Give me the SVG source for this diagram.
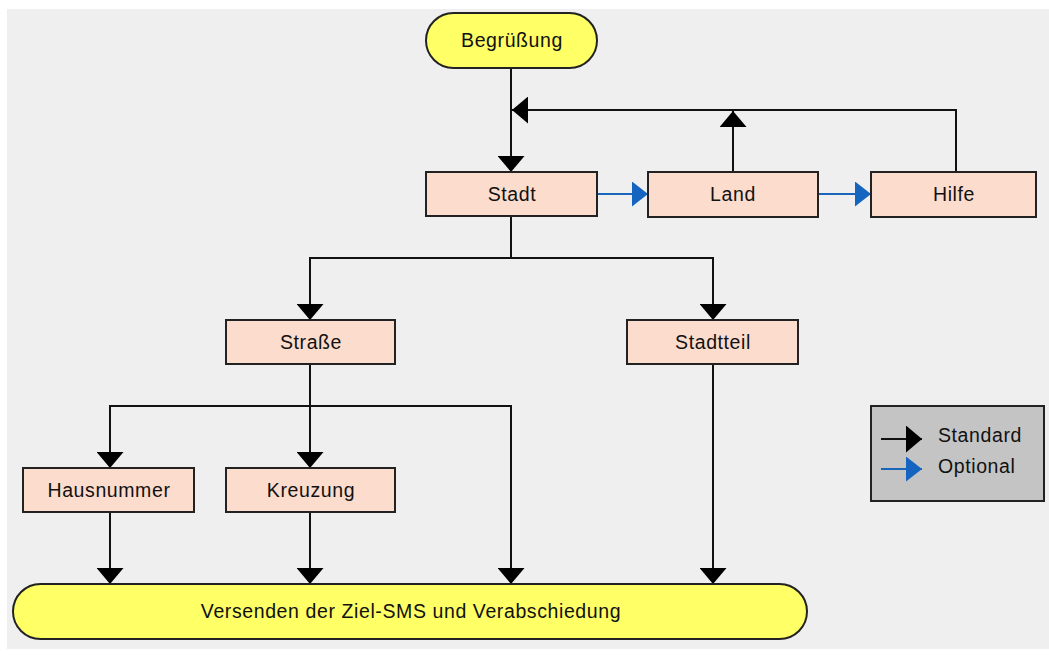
<svg xmlns="http://www.w3.org/2000/svg" width="1049" height="655" viewBox="0 0 1049 655">
<defs>
<style>
.bg{fill:#efefef}
.box{fill:#fcdccc;stroke:#222;stroke-width:2}
.term{fill:#ffff66;stroke:#222;stroke-width:2}
.legend{fill:#c4c4c4;stroke:#222;stroke-width:2}
.lbl{font-family:"Liberation Sans",Arial,sans-serif;font-size:19.5px;letter-spacing:0.6px;fill:#111;text-anchor:middle}
.lgt{font-family:"Liberation Sans",Arial,sans-serif;font-size:19.5px;letter-spacing:0.6px;fill:#111}
.std{fill:none;stroke:#111;stroke-width:2;marker-end:url(#ab)}
.opt{fill:none;stroke:#1a66bb;stroke-width:2;marker-end:url(#ao)}
</style>
<marker id="ab" markerUnits="userSpaceOnUse" markerWidth="16" markerHeight="27" refX="16" refY="13.5" orient="auto" viewBox="0 0 16 27">
<path d="M0,0 L16,13.5 L0,27 z" fill="#000"/>
</marker>
<marker id="ao" markerUnits="userSpaceOnUse" markerWidth="16" markerHeight="25" refX="16" refY="12.5" orient="auto" viewBox="0 0 16 25">
<path d="M0,0 L16,12.5 L0,25 z" fill="#1565c0"/>
</marker>
</defs>
<rect x="0" y="0" width="1049" height="655" fill="#ffffff"/>
<rect class="bg" x="7" y="9" width="1042" height="640"/>

<g id="connectors">
<path class="std" d="M511,68 V172"/>
<path class="std" d="M956,172 V110 H512"/>
<path class="std" d="M733,172 V111"/>
<path class="opt" d="M597,194 H648"/>
<path class="opt" d="M818,194 H871"/>
<path class="std" d="M511,216 V258 H310 V320"/>
<path class="std" d="M511,258 H713 V320"/>
<path class="std" d="M310,364 V406 H110 V468"/>
<path class="std" d="M310,406 V468"/>
<path class="std" d="M310,406 H511 V584"/>
<path class="std" d="M110,512 V584"/>
<path class="std" d="M310,512 V584"/>
<path class="std" d="M713,364 V584"/>
</g>

<g id="begruessung">
<rect class="term" x="426" y="13" width="171" height="55" rx="27.5"/>
<text class="lbl" x="512" y="47">Begrüßung</text>
</g>
<g id="stadt">
<rect class="box" x="426" y="172" width="171" height="44"/>
<text class="lbl" x="512" y="201">Stadt</text>
</g>
<g id="land">
<rect class="box" x="648" y="172" width="170" height="45"/>
<text class="lbl" x="733" y="201">Land</text>
</g>
<g id="hilfe">
<rect class="box" x="871" y="172" width="165" height="45"/>
<text class="lbl" x="954" y="201">Hilfe</text>
</g>
<g id="strasse">
<rect class="box" x="226" y="320" width="169" height="44"/>
<text class="lbl" x="311" y="349">Straße</text>
</g>
<g id="stadtteil">
<rect class="box" x="627" y="320" width="171" height="44"/>
<text class="lbl" x="713" y="349">Stadtteil</text>
</g>
<g id="hausnummer">
<rect class="box" x="23" y="468" width="171" height="44"/>
<text class="lbl" x="109" y="497">Hausnummer</text>
</g>
<g id="kreuzung">
<rect class="box" x="226" y="468" width="169" height="44"/>
<text class="lbl" x="311" y="497">Kreuzung</text>
</g>
<g id="versenden">
<rect class="term" x="13" y="584" width="794" height="55" rx="27.5"/>
<text class="lbl" x="411" y="618">Versenden der Ziel-SMS und Verabschiedung</text>
</g>
<g id="legend">
<rect class="legend" x="871" y="406" width="173" height="95"/>
<path class="std" d="M881,439 H922"/>
<text class="lgt" x="938" y="442">Standard</text>
<path class="opt" d="M881,469 H922"/>
<text class="lgt" x="938" y="473">Optional</text>
</g>
</svg>
